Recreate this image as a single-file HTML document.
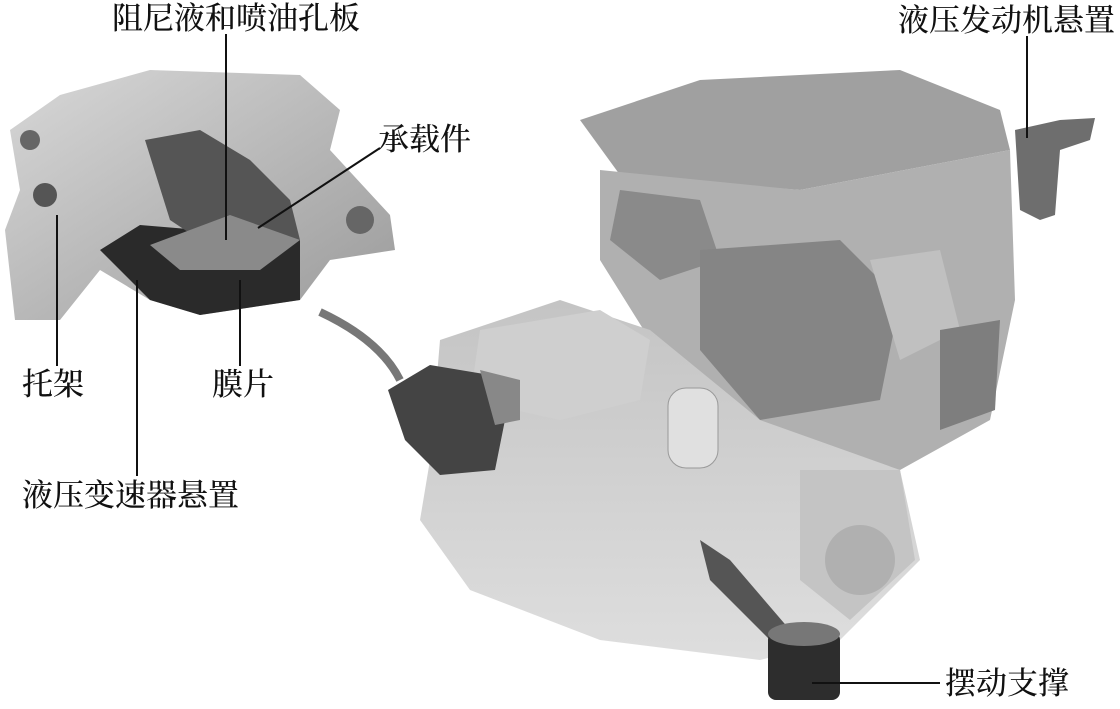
<!DOCTYPE html>
<html><head><meta charset="utf-8"><style>
html,body{margin:0;padding:0;background:#fff;}
body{width:1120px;height:709px;overflow:hidden;position:relative;}
.t{position:absolute;font-family:"Liberation Serif","Noto Serif CJK SC","Noto Sans CJK SC",serif;font-size:31px;color:#111;white-space:nowrap;line-height:32px;font-weight:500;}
svg{position:absolute;left:0;top:0;}
</style></head><body>
<svg width="1120" height="709" viewBox="0 0 1120 709">
<defs>
<linearGradient id="g1" x1="0" y1="0" x2="1" y2="1"><stop offset="0" stop-color="#d8d8d8"/><stop offset="1" stop-color="#9a9a9a"/></linearGradient>
<linearGradient id="g2" x1="0" y1="0" x2="0" y2="1"><stop offset="0" stop-color="#c4c4c4"/><stop offset="1" stop-color="#dedede"/></linearGradient>
</defs>
<polygon points="580,120 700,80 900,70 1000,110 1010,150 800,190 620,175" fill="#a0a0a0"/>
<polygon points="600,170 800,190 1010,150 1015,300 990,420 900,470 760,440 650,340 600,260" fill="#b0b0b0"/>
<polygon points="620,190 700,200 720,260 660,280 610,240" fill="#8a8a8a"/>
<polygon points="700,250 840,240 900,300 880,400 760,420 700,350" fill="#858585"/>
<polygon points="870,260 940,250 960,330 900,360" fill="#c0c0c0"/>
<polygon points="940,330 1000,320 995,410 940,430" fill="#7e7e7e"/>
<polygon points="1015,130 1060,120 1095,118 1090,140 1060,150 1055,215 1040,220 1020,210" fill="#6e6e6e"/>
<polygon points="440,340 560,300 650,330 760,420 900,470 920,560 840,640 760,660 600,640 470,590 420,520 430,460" fill="url(#g2)"/>
<polygon points="480,330 600,310 650,340 640,400 560,420 470,400" fill="#cfcfcf"/>
<rect x="668" y="388" width="50" height="80" rx="18" fill="#e0e0e0" stroke="#999"/>
<polygon points="800,470 900,470 915,560 850,620 800,580" fill="#c4c4c4"/>
<circle cx="860" cy="560" r="35" fill="#b0b0b0"/>
<path d="M320,312 Q380,340 400,380" stroke="#777" stroke-width="8" fill="none"/>
<polygon points="388,390 430,365 490,375 505,420 495,470 440,475 405,440" fill="#444"/>
<polygon points="480,370 520,380 520,420 495,425" fill="#888"/>
<polygon points="700,540 730,560 790,630 770,640 710,580" fill="#555"/>
<rect x="768" y="632" width="72" height="68" rx="8" fill="#2d2d2d"/>
<ellipse cx="804" cy="634" rx="36" ry="12" fill="#777"/>
<polygon points="10,130 60,95 150,70 300,75 340,110 330,150 390,215 395,250 330,260 300,300 200,315 150,300 100,270 60,320 15,320 5,230 20,190" fill="url(#g1)"/>
<polygon points="100,250 140,225 200,230 240,240 300,240 300,300 200,315 150,300" fill="#2a2a2a"/>
<polygon points="145,140 200,130 250,160 290,200 300,240 240,250 200,240 170,220" fill="#555"/>
<polygon points="150,245 230,215 300,240 260,270 180,270" fill="#8a8a8a"/>
<circle cx="45" cy="195" r="12" fill="#555"/>
<circle cx="360" cy="220" r="14" fill="#666"/>
<circle cx="30" cy="140" r="10" fill="#666"/>
<g stroke="#111" stroke-width="2">
<line x1="226" y1="34" x2="226" y2="240"/>
<line x1="380" y1="148" x2="258" y2="228"/>
<line x1="57" y1="215" x2="57" y2="366"/>
<line x1="240" y1="280" x2="240" y2="366"/>
<line x1="137" y1="280" x2="137" y2="476"/>
<line x1="1027" y1="36" x2="1027" y2="138"/>
<line x1="812" y1="683" x2="940" y2="683"/>
</g>
</svg>
<div class="t" style="left:112px;top:3px;">阻尼液和喷油孔板</div>
<div class="t" style="left:898px;top:5px;">液压发动机悬置</div>
<div class="t" style="left:378px;top:124px;">承载件</div>
<div class="t" style="left:22px;top:369px;">托架</div>
<div class="t" style="left:212px;top:369px;">膜片</div>
<div class="t" style="left:22px;top:480px;">液压变速器悬置</div>
<div class="t" style="left:945px;top:668px;">摆动支撑</div>
</body></html>
